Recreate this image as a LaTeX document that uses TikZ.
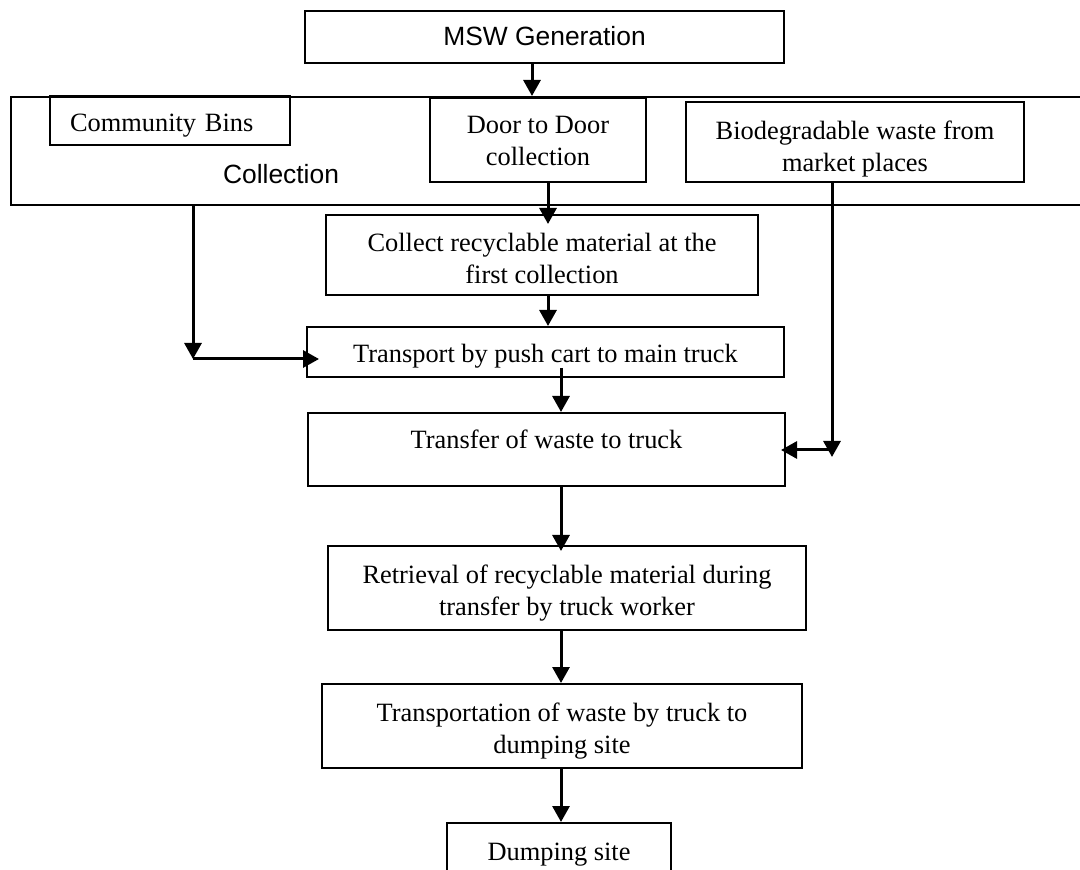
\documentclass[tikz,border=0pt]{standalone}
\usepackage{fontspec}
\setmainfont{Liberation Serif}
\newfontfamily\arialfont{Liberation Sans}
\usetikzlibrary{arrows.meta, positioning}

\tikzset{
  stage/.style={draw, line width=1pt, align=center, inner xsep=2pt, inner ysep=0pt,
                font=\fontsize{13.2}{16}\selectfont},
  sanslabel/.style={font=\arialfont\fontsize{13.2}{16}\selectfont},
  flow/.style={-{Triangle[length=8pt,width=8.5pt]}, line width=1.5pt},
}

\begin{document}
\begin{tikzpicture}[x=0.5pt, y=-0.5pt]
  \useasboundingbox (0,0) rectangle (1080,870);

  % Source
  \node[stage, sanslabel, minimum width=239.5pt, minimum height=26pt,
        text height=17.25pt, text depth=8.75pt]
    (msw) at (544.5,37) {MSW Generation};

  % Collection band
  \node[stage, minimum width=542pt, minimum height=54pt] (collbox) at (553,151) {};
  \node[sanslabel] (colltext) at (281,174) {Collection};
  \node[stage, minimum width=120pt, minimum height=24.5pt, text width=100pt,
        align=left, inner xsep=10pt, text height=17.75pt, text depth=6.75pt]
    (bins) at (170,120.5) {Community Bins};
  \node[stage, minimum width=108pt, minimum height=42pt,
        text height=33.75pt, text depth=8.25pt]
    (door) at (538,140) {Door to Door\\collection};
  \node[stage, minimum width=169pt, minimum height=40pt,
        text height=34.75pt, text depth=5.25pt]
    (market) at (855,142) {Biodegradable waste from\\market places};

  % Main chain
  \node[stage, minimum width=216pt, minimum height=40pt,
        text height=34.25pt, text depth=5.75pt]
    (recycle) at (542,255) {Collect recyclable material at the\\first collection};
  \node[stage, minimum width=238.5pt, minimum height=25pt,
        text height=17.75pt, text depth=7.25pt]
    (pushcart) at (545.5,352) {Transport by push cart to main truck};
  \node[stage, minimum width=238.5pt, minimum height=36.5pt,
        text height=17.75pt, text depth=18.75pt]
    (transfer) at (546.5,449.5) {Transfer of waste to truck};
  \node[stage, minimum width=239pt, minimum height=42pt,
        text height=34.75pt, text depth=7.25pt]
    (retrieval) at (567,588) {Retrieval of recyclable material during\\transfer by truck worker};
  \node[stage, minimum width=240pt, minimum height=42pt,
        text height=34.75pt, text depth=7.25pt]
    (haul) at (562,726) {Transportation of waste by truck to\\dumping site};
  \node[stage, minimum width=112pt, minimum height=30pt,
        text height=18.75pt, text depth=11.25pt]
    (dump) at (559,853) {Dumping site};

  % Connectors
  \coordinate (upper) at (548,0);
  \coordinate (spine) at (561,0);
  \coordinate (lbend) at (193,359);
  \coordinate (rbend) at (832,450);

  \draw[flow] ([xshift=-6.25pt]msw.south) -- ([xshift=-6.25pt]msw.south |- collbox.north);
  \draw[flow] (door.south -| upper) -- ([yshift=-5pt]recycle.north -| upper);
  \draw[flow] (recycle.south -| upper) -- (pushcart.north -| upper);
  \draw[flow] ([yshift=5pt]pushcart.south -| spine) -- (transfer.north -| spine);
  \draw[flow] (transfer.south -| spine) -- ([yshift=-3pt]retrieval.north -| spine);
  \draw[flow] (retrieval.south -| spine) -- (haul.north -| spine);
  \draw[flow] (haul.south -| spine) -- (dump.north -| spine);

  % Side feeds
  \draw[flow] (collbox.south -| lbend) -- (lbend);
  \draw[flow] (lbend) -- ([xshift=6.5pt]pushcart.west |- lbend);
  \draw[flow] (market.south -| rbend) -- ([yshift=-3.5pt]rbend);
  \draw[flow] (rbend) -- ([xshift=-2.5pt]transfer.east |- rbend);
\end{tikzpicture}
\end{document}
